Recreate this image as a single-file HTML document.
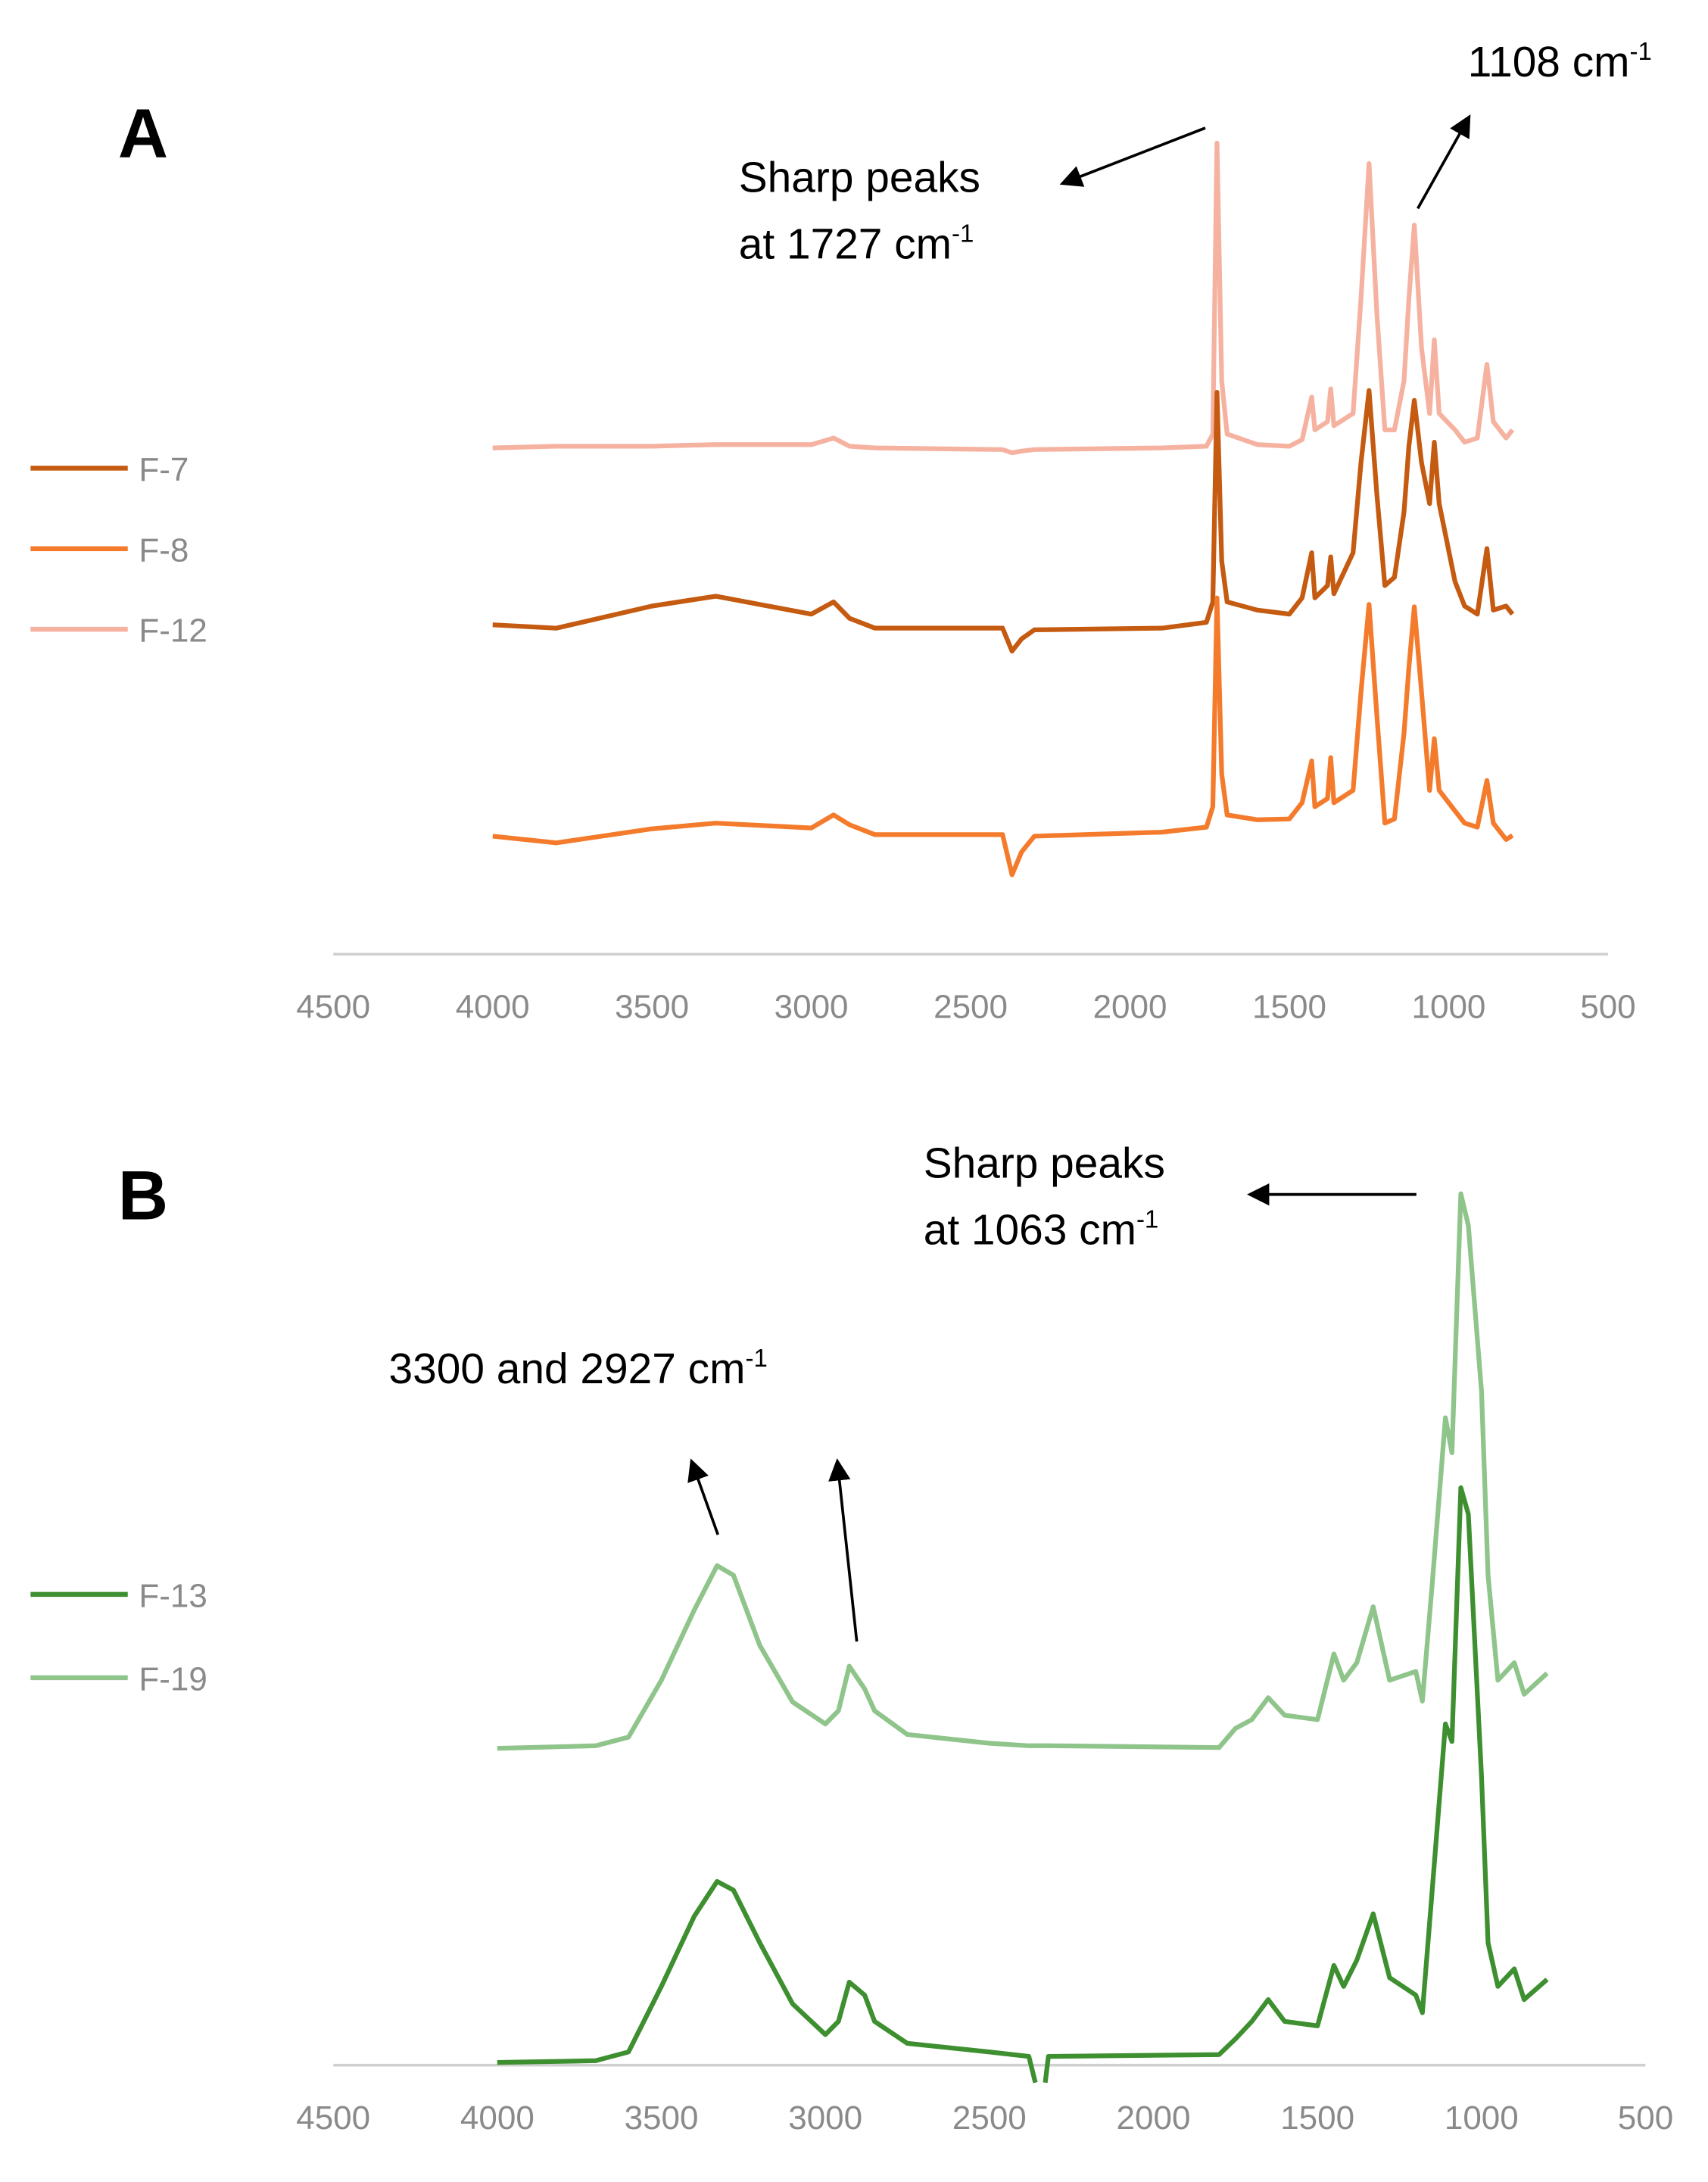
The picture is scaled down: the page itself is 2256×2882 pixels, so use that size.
<!DOCTYPE html>
<html><head><meta charset="utf-8"><style>
html,body{margin:0;padding:0;background:#fff}
svg{display:block}
text{font-family:"Liberation Sans",sans-serif}
</style></head><body>
<svg id="fig" width="2256" height="2882" viewBox="0 0 1230 1571" xmlns="http://www.w3.org/2000/svg">
<defs><marker id="ah" markerWidth="8" markerHeight="8" refX="7" refY="4" orient="auto"><path d="M0,0 L8,4 L0,8 Z" fill="#000"/></marker></defs>
<g id="pa"></g>
<g id="pb"></g>
<text x="85" y="113" font-size="50" font-weight="bold">A</text>
<text x="85" y="878" font-size="50" font-weight="bold">B</text>
<text x="532" y="138" font-size="31">Sharp peaks</text>
<text x="532" y="186" font-size="31">at 1727 cm<tspan dy="-12" font-size="18">-1</tspan></text>
<line x1="868" y1="92" x2="765" y2="132" stroke="#000" stroke-width="2" marker-end="url(#ah)"/>
<text x="1057" y="55" font-size="31">1108 cm<tspan dy="-12" font-size="18">-1</tspan></text>
<line x1="1021" y1="150" x2="1058" y2="84" stroke="#000" stroke-width="2" marker-end="url(#ah)"/>
<text x="665" y="848" font-size="31">Sharp peaks</text>
<text x="665" y="896" font-size="31">at 1063 cm<tspan dy="-12" font-size="18">-1</tspan></text>
<line x1="1020" y1="860" x2="900" y2="860" stroke="#000" stroke-width="2" marker-end="url(#ah)"/>
<text x="280" y="996" font-size="31">3300 and 2927 cm<tspan dy="-12" font-size="18">-1</tspan></text>
<line x1="517" y1="1105" x2="498" y2="1052" stroke="#000" stroke-width="2" marker-end="url(#ah)"/>
<line x1="617" y1="1182" x2="603" y2="1052" stroke="#000" stroke-width="2" marker-end="url(#ah)"/>
</svg>
<script>
const xTicks = [4500,4000,3500,3000,2500,2000,1500,1000,500];
const aWn = [4000,3800,3500,3300,3000,2930,2880,2800,2400,2370,2340,2300,1900,1760,1740,1727,1712,1695,1600,1500,1460,1430,1420,1380,1370,1360,1300,1275,1250,1225,1200,1170,1140,1125,1108,1085,1060,1045,1030,980,950,910,880,860,820,800];
const f12 = [61.8,62,62,62.2,62.2,63,62,61.8,61.6,61.2,61.4,61.6,61.8,62,63.5,99,70,63.5,62.2,62,62.8,68,64,65,69,64.5,66,80,96.5,78,64,64,70,80,89,74,66,75,66,64,62.5,63,72,65,63,64];
const f7 = [40.2,39.8,42.5,43.7,41.5,43,41,39.8,39.8,37,38.5,39.6,39.8,40.5,43,68.6,48,43,42,41.5,43.5,49,43.5,45,48.5,44,49,60,68.8,56,45,46,54,62,67.6,60,55,62.5,55,45.5,42.5,41.5,49.5,42,42.5,41.5];
const f8 = [14.4,13.6,15.3,16,15.4,17,15.8,14.6,14.6,9.7,12.5,14.4,14.9,15.5,18,43.5,22,17,16.4,16.5,18.5,23.6,18,19,24,18.5,20,32,42.7,29,16,16.5,27,35,42.4,32,20,26.3,20,17.5,16,15.5,21.2,16,14,14.5];
const bWn = [4000,3700,3600,3500,3400,3330,3280,3200,3100,3000,2960,2927,2880,2850,2750,2500,2380,2360,2350,2330,2320,1800,1750,1700,1650,1600,1500,1450,1420,1380,1330,1280,1200,1180,1150,1110,1090,1063,1040,1000,980,950,900,870,800];
const f19 = [36.2,36.5,37.5,44,52,57.1,56,48,41.5,39,40.5,45.6,43,40.5,37.8,36.8,36.5,36.5,36.5,36.5,36.5,36.3,38.5,39.5,42,40,39.5,47,44,46,52.4,44,45,41.6,55,74,70,99.6,96,77,56,44,46,42.4,44.8];
const f13 = [0.3,0.5,1.5,9,17,21,20,14,7,3.5,5,9.5,8,5,2.5,1.5,1,-2,null,-2,1,1.2,3,5,7.5,5,4.5,11.4,9,12,17.3,10,8,6,20,39,37,66,63,33,14,9,11,7.5,9.8];

const NS="http://www.w3.org/2000/svg";
function mk(tag,attrs,parent){const e=document.createElementNS(NS,tag);for(const k in attrs)e.setAttribute(k,attrs[k]);parent.appendChild(e);return e;}

function panel(g, x0, x1, axisY, yTop, legendYs, series, wn){
  const xs = v => x0 + (4500 - v) / 4000 * (x1 - x0);
  const ys = v => axisY - v / 100 * (axisY - yTop);
  const ax = mk('line',{x1:x0,y1:axisY,x2:x1,y2:axisY,stroke:'#d0d0d0','stroke-width':2},g);
  
  
  xTicks.forEach(t=>{
    const tk = mk('text',{x:xs(t),y:axisY+46,'font-size':24,'text-anchor':'middle',fill:'#8a8a8a'},g);
    tk.textContent = t;
    
    
  });
  series.forEach((s,i)=>{
    let segs=[], cur=[];
    s.vals.forEach((v,j)=>{ if(v===null){ if(cur.length) segs.push(cur); cur=[]; } else cur.push(xs(wn[j]).toFixed(1)+','+ys(v).toFixed(1)); });
    if(cur.length) segs.push(cur);
    segs.forEach(sg=>{
      const p = mk('polyline',{points:sg.join(' '),fill:'none',stroke:s.color,'stroke-width':3.4,'stroke-linejoin':'round'},g);
      
      
    });
  });
  series.forEach((s,i)=>{
    const ly = legendYs[s.order];
    const l = mk('line',{x1:22,y1:ly,x2:92,y2:ly,stroke:s.color,'stroke-width':3.5},g);
    
    
    const t = mk('text',{x:100,y:ly+9,'font-size':24,fill:'#8a8a8a'},g);
    t.textContent = s.name;
    
    
  });
}
panel(document.getElementById('pa'),240,1158,687,97,[337,395,453],[
  {name:'F-12',vals:f12,color:'#f6b2a0',order:2},
  {name:'F-7',vals:f7,color:'#c55a11',order:0},
  {name:'F-8',vals:f8,color:'#f47b2c',order:1}],aWn);
panel(document.getElementById('pb'),240,1185,1487,857,[1148,1208],[
  {name:'F-19',vals:f19,color:'#8fc48b',order:1},
  {name:'F-13',vals:f13,color:'#3d8f2f',order:0}],bWn);
</script>
</body></html>
